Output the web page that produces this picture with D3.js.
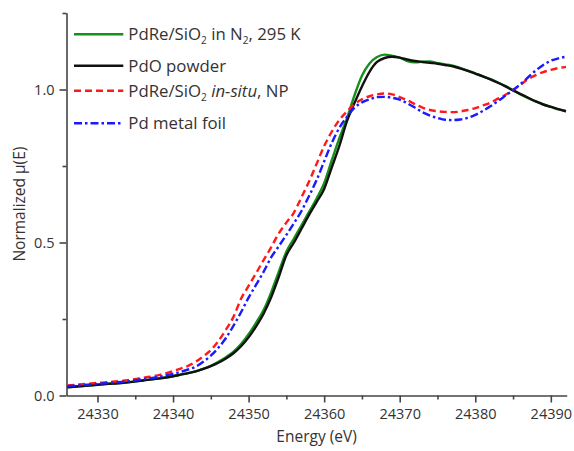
<!DOCTYPE html>
<html>
<head>
<meta charset="utf-8">
<script src="https://cdn.jsdelivr.net/npm/d3@7"></script>
<style>
  html, body { margin: 0; padding: 0; background: #fff; }
  svg { display: block; }
  text { font-family: "Open Sans", "DejaVu Sans", sans-serif; fill: #333; }
</style>
</head>
<body>
<svg id="chart" width="574" height="451"></svg>
<script>
// ---------------- DATA ----------------
const energy = [24326, 24328, 24330, 24332, 24334, 24336, 24338, 24340, 24341, 24342, 24343, 24344, 24345, 24346, 24347, 24348, 24349, 24350, 24351, 24352, 24353, 24354, 24355, 24356, 24357, 24358, 24359, 24360, 24361, 24362, 24363, 24364, 24365, 24366, 24367, 24368, 24369, 24370, 24371, 24372, 24373, 24374, 24375, 24376, 24377, 24378, 24379, 24380, 24381, 24382, 24383, 24384, 24385, 24386, 24387, 24388, 24389, 24390, 24391, 24392];

const pdreN2 = [0.027, 0.031, 0.035, 0.039, 0.043, 0.049, 0.055, 0.063, 0.068, 0.073, 0.079, 0.087, 0.097, 0.110, 0.125, 0.143, 0.168, 0.200, 0.238, 0.280, 0.338, 0.405, 0.470, 0.513, 0.556, 0.600, 0.644, 0.694, 0.768, 0.840, 0.905, 0.980, 1.045, 1.085, 1.106, 1.114, 1.110, 1.104, 1.093, 1.089, 1.091, 1.092, 1.086, 1.082, 1.078, 1.070, 1.062, 1.053, 1.043, 1.034, 1.023, 1.011, 0.998, 0.984, 0.972, 0.961, 0.951, 0.943, 0.935, 0.929];

const pdoPowder = [0.027, 0.031, 0.035, 0.039, 0.043, 0.049, 0.055, 0.063, 0.068, 0.073, 0.079, 0.087, 0.096, 0.107, 0.121, 0.138, 0.161, 0.190, 0.226, 0.268, 0.322, 0.388, 0.458, 0.500, 0.545, 0.590, 0.632, 0.675, 0.745, 0.815, 0.895, 0.955, 1.010, 1.058, 1.090, 1.103, 1.107, 1.104, 1.098, 1.093, 1.090, 1.087, 1.084, 1.080, 1.076, 1.069, 1.061, 1.052, 1.043, 1.033, 1.022, 1.010, 0.997, 0.985, 0.973, 0.961, 0.951, 0.943, 0.936, 0.929];

const pdreInSitu = [0.033, 0.037, 0.041, 0.045, 0.050, 0.058, 0.066, 0.080, 0.088, 0.097, 0.110, 0.128, 0.148, 0.178, 0.215, 0.257, 0.316, 0.358, 0.400, 0.443, 0.485, 0.530, 0.565, 0.598, 0.648, 0.699, 0.757, 0.815, 0.862, 0.900, 0.928, 0.952, 0.968, 0.978, 0.984, 0.987, 0.984, 0.975, 0.965, 0.952, 0.941, 0.933, 0.929, 0.927, 0.926, 0.928, 0.933, 0.939, 0.948, 0.957, 0.970, 0.983, 0.998, 1.016, 1.034, 1.047, 1.057, 1.064, 1.070, 1.074];

const pdFoil = [0.030, 0.034, 0.038, 0.042, 0.046, 0.053, 0.060, 0.071, 0.077, 0.085, 0.094, 0.110, 0.130, 0.156, 0.188, 0.228, 0.272, 0.320, 0.362, 0.405, 0.452, 0.488, 0.525, 0.563, 0.603, 0.652, 0.704, 0.765, 0.825, 0.874, 0.910, 0.940, 0.958, 0.968, 0.975, 0.976, 0.973, 0.967, 0.955, 0.941, 0.926, 0.915, 0.907, 0.901, 0.900, 0.902, 0.907, 0.917, 0.930, 0.945, 0.962, 0.980, 0.998, 1.018, 1.040, 1.062, 1.080, 1.094, 1.102, 1.107];

const xMajorTicks = [24330, 24340, 24350, 24360, 24370, 24380, 24390];
const xMinorTicks = [24335, 24345, 24355, 24365, 24375, 24385];
const yMajorTicks = [0.0, 0.5, 1.0];
const yMinorTicks = [0.25, 0.75, 1.25];
const xDomain = [24325.9, 24392.1];
const yDomain = [0, 1.251];

const seriesNames = ["PdRe/SiO2 in N2, 295 K", "PdO powder", "PdRe/SiO2 in-situ, NP", "Pd metal foil"];
const seriesData = [pdreN2, pdoPowder, pdreInSitu, pdFoil];

// ---------------- STYLE ----------------
const styles = [
  { color: "#17901a", dash: null, width: 2.4 },
  { color: "#111111", dash: null, width: 2.4 },
  { color: "#ff1a1a", dash: "7,4", width: 2.4 },
  { color: "#1a1aff", dash: "8,3,2.5,3", width: 2.4 }
];

const svg = d3.select("#chart");
const pLeft = 66.5, pRight = 566.7, pTop = 12.7, pBottom = 395.5;

const x = d3.scaleLinear().domain(xDomain).range([pLeft, pRight]);
const y = d3.scaleLinear().domain(yDomain).range([pBottom, pTop]);

// axes
const gx = svg.append("g").attr("transform", `translate(0,${pBottom})`);
gx.call(d3.axisBottom(x).tickValues(xMinorTicks).tickSize(4).tickSizeOuter(0).tickFormat(""));
gx.call(g => g.select(".domain").remove());
const gx2 = svg.append("g").attr("transform", `translate(0,${pBottom})`);
gx2.call(d3.axisBottom(x).tickValues(xMajorTicks).tickSize(7).tickSizeOuter(0).tickPadding(6).tickFormat(d3.format("d")));

const gy = svg.append("g").attr("transform", `translate(${pLeft},0)`);
gy.call(d3.axisLeft(y).tickValues(yMinorTicks).tickSize(4).tickSizeOuter(0).tickFormat(""));
gy.call(g => g.select(".domain").remove());
const gy2 = svg.append("g").attr("transform", `translate(${pLeft},0)`);
gy2.call(d3.axisLeft(y).tickValues(yMajorTicks).tickSize(7).tickSizeOuter(0).tickPadding(5).tickFormat(d3.format(".1f")));

svg.selectAll(".domain, .tick line").attr("stroke", "#444").attr("stroke-width", 1.6);
svg.selectAll(".tick text").attr("font-size", 14.5).attr("fill", "#333")
  .style("font-family", "'Open Sans', sans-serif");

// axis titles
svg.append("text").attr("x", (pLeft + pRight) / 2).attr("y", 442)
  .attr("text-anchor", "middle").attr("font-size", 15.5).text("Energy (eV)");
svg.append("text").attr("transform", `translate(25,${(pTop + pBottom) / 2}) rotate(-90)`)
  .attr("text-anchor", "middle").attr("font-size", 15.5).text("Normalized \u03bc(E)");

// lines
const line = d3.line().x(d => x(d[0])).y(d => y(d[1])).curve(d3.curveMonotoneX);
seriesData.forEach((vals, i) => {
  const pts = energy.map((e, k) => [e, vals[k]]);
  const p = svg.append("path").datum(pts).attr("d", line)
    .attr("fill", "none").attr("stroke", styles[i].color)
    .attr("stroke-width", styles[i].width).attr("stroke-linejoin", "round");
  if (styles[i].dash) p.attr("stroke-dasharray", styles[i].dash);
});

// legend
const legRows = [34.3, 65.7, 90.7, 123.3];
const lx0 = 74, lx1 = 123.3, tx = 128.3, fs = 16.8;
legRows.forEach((ry, i) => {
  const p = svg.append("line").attr("x1", lx0).attr("x2", lx1).attr("y1", ry).attr("y2", ry)
    .attr("stroke", styles[i].color).attr("stroke-width", 2.4);
  if (styles[i].dash) p.attr("stroke-dasharray", styles[i].dash);
});
function legText(i, parts) {
  const t = svg.append("text").attr("x", tx).attr("y", legRows[i] + 6).attr("font-size", fs);
  parts.forEach(pt => {
    const s = t.append("tspan").text(pt.t);
    if (pt.sub) s.attr("font-size", fs * 0.6).attr("dy", 4);
    if (pt.after) s.attr("dy", -4);
    if (pt.it) s.attr("font-style", "italic");
  });
}
legText(0, [{ t: "PdRe/SiO" }, { t: "2", sub: true }, { t: " in N", after: true }, { t: "2", sub: true }, { t: ", 295 K", after: true }]);
legText(1, [{ t: "PdO powder" }]);
legText(2, [{ t: "PdRe/SiO" }, { t: "2", sub: true }, { t: " ", after: true }, { t: "in-situ", it: true }, { t: ", NP" }]);
legText(3, [{ t: "Pd metal foil" }]);
</script>
</body>
</html>
